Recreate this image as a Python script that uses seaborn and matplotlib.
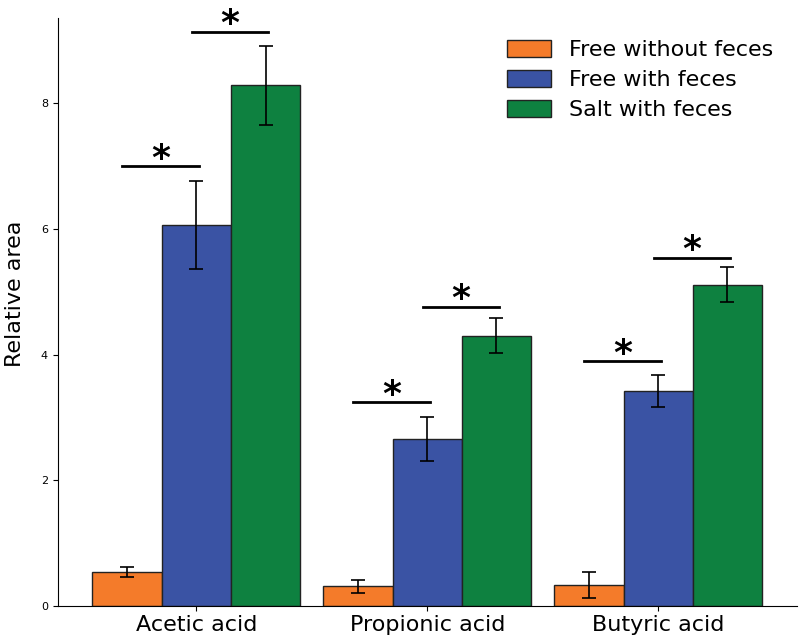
import numpy as np
import pandas as pd
import matplotlib
matplotlib.use("Agg")
import matplotlib.pyplot as plt
import seaborn as sns

# data
acids = ["Acetic acid", "Propionic acid", "Butyric acid"]
groups = ["Free without feces", "Free with feces", "Salt with feces"]
means_free_no_feces = [0.54, 0.31, 0.33]
means_free_feces = [6.07, 2.66, 3.42]
means_salt_feces = [8.29, 4.30, 5.11]
err_free_no_feces = [0.08, 0.10, 0.20]
err_free_feces = [0.70, 0.35, 0.26]
err_salt_feces = [0.63, 0.28, 0.28]

# significance bars: (acid index, left group, right group, height)
sig_acid = [0, 0, 1, 1, 2, 2]
sig_left = [0, 1, 0, 1, 0, 1]
sig_right = [1, 2, 1, 2, 1, 2]
sig_height = [7.0, 9.14, 3.24, 4.76, 3.89, 5.54]

colors = ["#F47B2A", "#3A53A4", "#0E8140"]

means = [means_free_no_feces, means_free_feces, means_salt_feces]
errs = [err_free_no_feces, err_free_feces, err_salt_feces]

df = pd.DataFrame({
    "acid": np.repeat([acids], 3, axis=0).ravel(),
    "group": np.repeat(groups, len(acids)),
    "value": np.ravel(means),
})

fig = plt.figure(figsize=(8, 6.41), dpi=100)
ax = fig.add_axes([0.072, 0.055, 0.924, 0.917])

sns.barplot(
    data=df, x="acid", y="value", hue="group",
    order=acids, hue_order=groups, palette=colors,
    errorbar=None, width=0.9, gap=0, saturation=1,
    edgecolor="#222222", linewidth=1.0, ax=ax,
)

# error bars and bar centers from the drawn containers
bar_containers = list(ax.containers)
centers = []
for i, cont in enumerate(bar_containers):
    xs = [b.get_x() + b.get_width() / 2 for b in cont]
    ys = [b.get_height() for b in cont]
    centers.append(xs)
    ax.errorbar(xs, ys, yerr=errs[i], fmt="none", ecolor="black",
                elinewidth=1.2, capsize=5, capthick=1.2)

for a, l, r, h in zip(sig_acid, sig_left, sig_right, sig_height):
    x0 = centers[l][a] - 0.02
    x1 = centers[r][a] + 0.01
    ax.plot([x0, x1], [h, h], color="black", linewidth=2)
    ax.text((x0 + x1) / 2, h - 0.04, "*", ha="center", va="baseline",
            fontsize=26, fontweight="bold")

ax.set_xlim(-0.6, 2.6)
ax.set_ylim(0, 9.36)
ax.set_yticks([0, 2, 4, 6, 8])
ax.tick_params(axis="y", labelsize=8)
ax.tick_params(axis="x", labelsize=16)
ax.set_xlabel("")
ax.set_ylabel("Relative area", fontsize=16)
ax.yaxis.set_label_coords(-0.044, 0.53)
ax.spines["top"].set_visible(False)
ax.spines["right"].set_visible(False)

ax.legend(title=None, frameon=False, fontsize=16, loc="upper right",
          bbox_to_anchor=(0.995, 0.997), handlelength=2.0, handleheight=0.8,
          labelspacing=0.45)

fig.savefig("out.png", dpi=100)
